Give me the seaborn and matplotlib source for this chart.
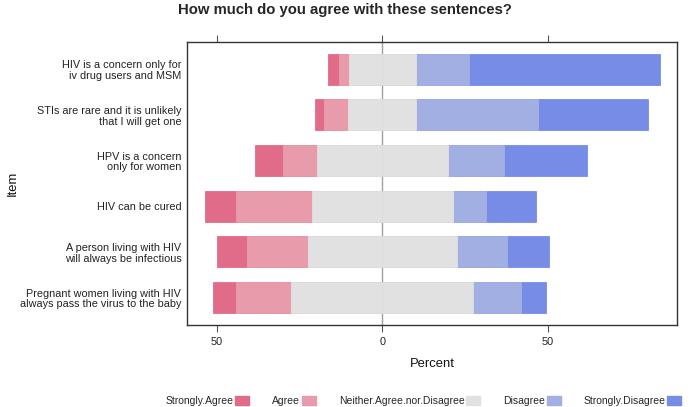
import pandas as pd
import matplotlib
matplotlib.use("Agg")
import matplotlib.pyplot as plt
from matplotlib.patches import Patch
import seaborn as sns

# items from top to bottom
items = [
    "HIV is a concern only for\niv drug users and MSM",
    "STIs are rare and it is unlikely\nthat I will get one",
    "HPV is a concern\nonly for women",
    "HIV can be cured",
    "A person living with HIV\nwill always be infectious",
    "Pregnant women living with HIV\nalways pass the virus to the baby",
]

# percents
strongly_agree = [3.3, 2.6, 8.3, 9.4, 9.1, 6.9]
agree = [3.1, 7.3, 10.3, 23.0, 18.2, 16.6]
neutral = [20.2, 20.6, 39.7, 42.5, 45.1, 55.0]
disagree = [16.0, 36.7, 16.8, 10.0, 15.1, 14.5]
strongly_disagree = [57.7, 33.1, 25.1, 15.3, 12.7, 7.3]

levels = ["Strongly.Agree", "Agree", "Neither.Agree.nor.Disagree",
          "Disagree", "Strongly.Disagree"]
colors = ["#E16C89", "#E89BAA", "#E1E1E1", "#A2AFE3", "#778CE6"]

df = pd.DataFrame({
    "Item": items,
    "sa": strongly_agree,
    "a": agree,
    "n": neutral,
    "d": disagree,
    "sd": strongly_disagree,
})

# diverging layout: neutral split around zero, agree to the left
df["half_n"] = df["n"] / 2
df["left_a"] = -(df["half_n"] + df["a"])
df["left_sa"] = -(df["half_n"] + df["a"] + df["sa"])
df["right_d"] = df["half_n"] + df["d"]
df["right_sd"] = df["half_n"] + df["d"] + df["sd"]
df["left_n"] = -df["half_n"]

sns.set_theme(style="white")
plt.rcParams["font.family"] = ["Liberation Sans", "DejaVu Sans"]

fig = plt.figure(figsize=(7, 4.07), dpi=100)
ax = fig.add_axes([0.2676, 0.2015, 0.70, 0.696])

ax.axvline(0, color="#A0A0A0", lw=1, zorder=0)

# outer layers first, inner layers on top
layers = [("left_sa", 0), ("left_a", 1), ("left_n", 2),
          ("right_sd", 4), ("right_d", 3), ("half_n", 2)]
for col, ci in layers:
    sns.barplot(data=df, x=col, y="Item", orient="h", color=colors[ci],
                width=0.68, saturation=1, edgecolor=colors[ci],
                linewidth=0.6, ax=ax, zorder=2)

ax.set_xlim(-58.9, 89.1)
ax.set_ylim(5.6, -0.6)
ax.set_xticks([-50, 0, 50])
ax.set_xticklabels(["50", "0", "50"])
ax.tick_params(axis="x", bottom=True, top=True, labeltop=False,
               direction="out", length=4.8, width=0.8, color="#555555",
               pad=3.5, labelsize=7.8, labelcolor="#222222")
ax.tick_params(axis="y", left=False, length=0, pad=4.3, labelsize=7.8,
               labelcolor="#222222")
for lab in ax.get_yticklabels():
    lab.set_linespacing(1.1)

for s in ax.spines.values():
    s.set_color("#333333")
    s.set_linewidth(1.0)

ax.set_xlabel("Percent", fontsize=9.4, color="#111111", labelpad=8)
ax.set_ylabel("Item", fontsize=9.4, color="#111111")
ax.yaxis.set_label_coords(-0.345, 0.5)

fig.text(0.493, 0.992, "How much do you agree with these sentences?",
         ha="center", va="top", fontsize=10.7, fontweight="bold")

handles = [Patch(facecolor=c, edgecolor=c) for c in colors]
fig.legend(handles, levels, loc="center",
           bbox_to_anchor=(423.5 / 700, 1 - 401 / 407), ncol=5,
           frameon=False, markerfirst=False, fontsize=7.5,
           handlelength=1.35, handleheight=0.87, handletextpad=0.15,
           columnspacing=2.2, borderpad=0, borderaxespad=0)

fig.savefig("out.png", dpi=100)
